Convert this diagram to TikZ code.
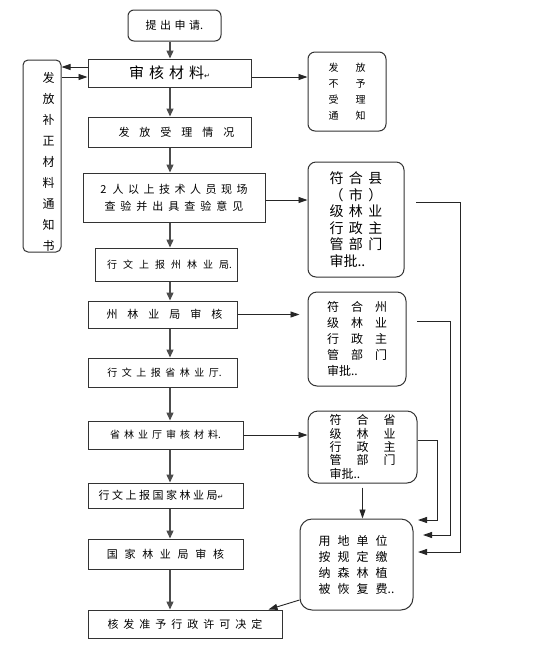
\documentclass[tikz,border=0pt]{standalone}
\usepackage{fontspec}
\newfontfamily\cjk{Noto Sans CJK SC}
\newfontfamily\dv{DejaVu Sans}
\usetikzlibrary{arrows.meta,calc}
\newcommand\spc[2]{\def\spcgap{#1}\spcfirst#2\relax}
\def\spcfirst#1{#1\spcrest}
\def\spcrest#1{\ifx\relax#1\else\hspace{\spcgap}#1\expandafter\spcrest\fi}
\newcommand\fs[2]{\fontsize{#1}{#2}\selectfont}
\newcommand\pmark{{\dv\fontsize{7}{7}\selectfont ↵}}
\tikzset{
  box/.style={draw=black!80, line width=1pt, inner sep=0pt, align=center, font=\cjk\fs{11}{13}},
  rbox/.style={box, rounded corners=8pt},
  arr/.style={draw=black!70, line width=1.3pt, -{Triangle[length=8pt,width=7pt]}},
  arrb/.style={draw=black!85, line width=0.9pt, -{Triangle[length=9pt,width=6pt]}},
}
\begin{document}
\begin{tikzpicture}[x=1pt,y=-1pt]
\useasboundingbox (0,0) rectangle (554,649);
\fill[white] (0,0) rectangle (554,649);

% main column
\node[rbox, rounded corners=6pt, minimum width=93pt, minimum height=31pt] (apply) at (174.5,25.5) {\spc{3.5pt}{提出申请}.};
\node[box, minimum width=163pt, minimum height=28pt, font=\cjk\fs{15}{17}] (review) at (169.5,73) {\spc{5pt}{审核材料}\pmark};
\node[box, minimum width=163pt, minimum height=30pt] (accept) at (169.5,132) {\hspace*{14pt}\spc{10pt}{发放受理情况}};
\node[box, minimum width=182pt, minimum height=49pt, font=\cjk\fs{11}{17}] (inspect) at (174,197.5) {2\hspace{6pt}\spc{4.5pt}{人以上技术人员现场}\\\spc{5pt}{查验并出具查验意见}};
\node[box, minimum width=142pt, minimum height=33pt, font=\cjk\fs{10}{12}] (report1) at (166,264.5) {\hspace*{7pt}\spc{6pt}{行文上报州林业局}.};
\node[box, minimum width=149pt, minimum height=27pt] (zhou) at (162.5,314.5) {\hspace*{4pt}\spc{10pt}{州林业局审核}};
\node[box, minimum width=149pt, minimum height=29pt, font=\cjk\fs{10}{12}] (report2) at (162.5,372.5) {\hspace*{4pt}\spc{4.5pt}{行文上报省林业厅}.};
\node[box, minimum width=155pt, minimum height=28pt, font=\cjk\fs{10}{12}] (prov) at (165.5,435) {\spc{4pt}{省林业厅审核材料}.};
\node[box, minimum width=155pt, minimum height=25pt] (report3) at (165.5,495.5) {\spc{2.5pt}{行文上报国家林业局}\pmark\hspace*{9pt}};
\node[box, minimum width=155pt, minimum height=30pt] (national) at (165.5,554) {\spc{6.7pt}{国家林业局审核}};
\node[box, minimum width=194pt, minimum height=28pt] (final) at (185,624) {\spc{5pt}{核发准予行政许可决定}};

% left box
\node[rbox, rounded corners=5pt, minimum width=38pt, minimum height=192pt] (leftbox) at (42,156) {};
\node[inner sep=0pt, align=center, font=\cjk\fs{12}{21}] (lefttext) at (48.5,161.5) {发\\放\\补\\正\\材\\料\\通\\知\\书};

% right boxes
\node[rbox, rounded corners=7pt, minimum width=78pt, minimum height=79pt, font=\cjk\fs{10}{16}] (notice) at (347,91.5)
  {\spc{17pt}{发放}\\\spc{17pt}{不予}\\\spc{17pt}{受理}\\\spc{17pt}{通知}};
\node[rbox, rounded corners=8pt, minimum width=96pt, minimum height=115pt, align=left, font=\cjk\fs{14}{16.5}] (county) at (356,219.5)
  {\spc{5.5pt}{符合县}\\\spc{5.5pt}{（市）}\\\spc{5.5pt}{级林业}\\\spc{5.5pt}{行政主}\\\spc{5.5pt}{管部门}\\审批..};
\node[rbox, rounded corners=9pt, minimum width=98pt, minimum height=94pt, align=left, font=\cjk\fs{12}{16}] (zhoubox) at (357,339)
  {\spc{12pt}{符合州}\\\spc{12pt}{级林业}\\\spc{12pt}{行政主}\\\spc{12pt}{管部门}\\审批..};
\node[rbox, rounded corners=10pt, minimum width=109pt, minimum height=72pt, align=left, font=\cjk\fs{12}{13.3}] (provbox) at (362.5,447)
  {\spc{15pt}{符合省}\\\spc{15pt}{级林业}\\\spc{15pt}{行政主}\\\spc{15pt}{管部门}\\审批..};
\node[rbox, rounded corners=12pt, minimum width=113pt, minimum height=91pt, align=left, font=\cjk\fs{12}{16}] (user) at (356.5,564.5)
  {\spc{7pt}{用地单位}\\\spc{7pt}{按规定缴}\\\spc{7pt}{纳森林植}\\\spc{7pt}{被恢复费}..};

% main column arrows
\coordinate (cx) at (170,0);
\draw[arr] (cx |- apply.south) -- (cx |- review.north);
\draw[arr] (cx |- review.south) -- (cx |- accept.north);
\draw[arr] (cx |- accept.south) -- (cx |- inspect.north);
\draw[arr] (cx |- inspect.south) -- (cx |- report1.north);
\draw[arr] (cx |- report1.south) -- (cx |- zhou.north);
\draw[arr] (cx |- zhou.south) -- (cx |- report2.north);
\draw[arr] (cx |- report2.south) -- (cx |- prov.north);
\draw[arr] (cx |- prov.south) -- (cx |- report3.north);
\draw[arr] (cx |- report3.south) -- (cx |- national.north);
\draw[arr] (cx |- national.south) -- (cx |- final.north);

% left box arrows
\coordinate (rl1) at ($(review.west)+(0,-6)$);
\coordinate (rl2) at ($(review.west)+(0,4)$);
\draw[arrb] (rl1) -- (rl1 -| leftbox.east);
\draw[arrb] (rl2 -| leftbox.east) -- (rl2);

% right arrows
\coordinate (rr) at ($(review.east)+(0,4)$);
\draw[arrb] (rr) -- (rr -| notice.west);
\coordinate (ir) at ($(inspect.east)+(0,2.5)$);
\draw[arrb] (ir) -- (ir -| county.west);
\draw[arrb] (zhou.east) -- ($(zhou.east -| zhoubox.west)+(-8,0)$);
\draw[arrb] (prov.east) -- (prov.east -| provbox.west);

% return lines to user box
\coordinate (cs) at (416,202);
\coordinate (ce) at (418,552);
\draw[arrb] (cs) -| (460,552) -- (ce);
\coordinate (zs) at (417,321);
\coordinate (ze) at (423,535);
\draw[arrb] (zs) -| (450,535) -- (ze);
\coordinate (ps) at ($(provbox.east)+(0,-7)$);
\coordinate (pe) at (418,520);
\draw[arrb] (ps) -| (437,520) -- (pe);

\coordinate (pb) at ($(provbox.south)+(0,4)$);
\draw[arrb] (pb) -- (pb |- user.north);
\coordinate (us) at ($(user.west)+(0,35.5)$);
\coordinate (fe) at ($(final.north east)+(-14,0)$);
\draw[arrb] (us) -- (fe);
\end{tikzpicture}
\end{document}
